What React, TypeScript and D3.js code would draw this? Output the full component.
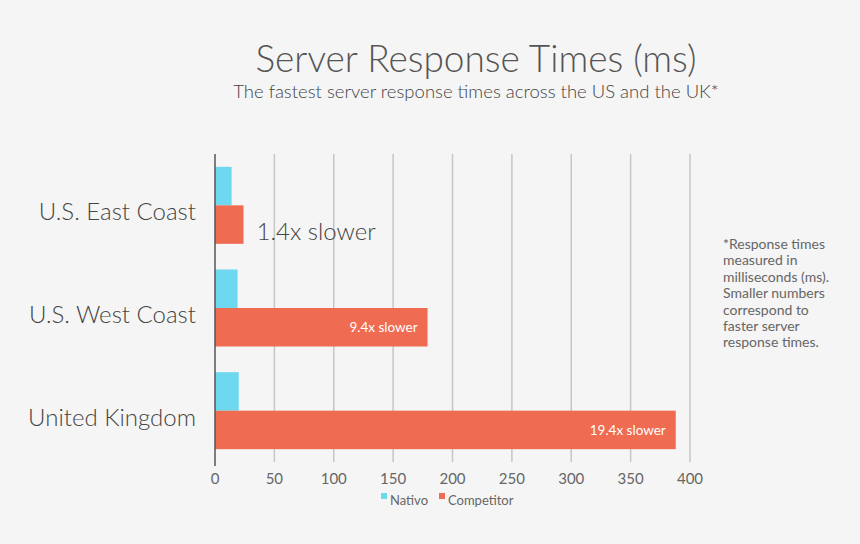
import React from "react";
import * as d3 from "d3";

const categories = ["U.S. East Coast", "U.S. West Coast", "United Kingdom"];
const nativo = [14, 19, 20];
const competitor = [24, 179, 388];
const barLabels = ["1.4x slower", "9.4x slower", "19.4x slower"];
const xTicks = [0, 50, 100, 150, 200, 250, 300, 350, 400];
const noteLines = [
  "*Response times",
  "measured in",
  "milliseconds (ms).",
  "Smaller numbers",
  "correspond to",
  "faster server",
  "response times.",
];

const W = 860, H = 544;
const CYAN = "#6dd8ef";
const RED = "#ef6b52";
const TEXT = "#555";
const FONT = "Lato, 'Open Sans', sans-serif";

export default function App() {
  const x = d3.scaleLinear().domain([0, 400]).range([215, 690]);
  const y = d3.scaleBand().domain(categories).range([154, 462]).paddingInner(0.25).paddingOuter(0.125);
  const sub = d3.scaleBand().domain(["n", "c"]).range([0, y.bandwidth()]);
  return (
    <svg width={W} height={H} style={{ position: "absolute", left: 0, top: 0, background: "#f5f5f5" }}>
      <rect x={0} y={0} width={W} height={H} fill="#f5f5f5" />
      <text x={476} y={72} textAnchor="middle" fontFamily={FONT} fontWeight={300} fontSize={37} fill={TEXT}>
        Server Response Times (ms)
      </text>
      <text x={476} y={98} textAnchor="middle" fontFamily={FONT} fontWeight={300} fontSize={18.5} fill="#444">
        The fastest server response times across the US and the UK*
      </text>
      {xTicks.map((t) => (
        <g key={t}>
          {t > 0 && <line x1={x(t)} x2={x(t)} y1={154} y2={462} stroke="#c6c6c6" strokeWidth={1.5} />}
          <text x={x(t)} y={484} textAnchor="middle" fontFamily={FONT} fontSize={15} fill="#666">
            {t}
          </text>
        </g>
      ))}
      {categories.map((c, i) => {
        const y0 = y(c)!;
        const yn = y0 + sub("n")!;
        const yc = y0 + sub("c")!;
        const bh = sub.bandwidth();
        const inside = i > 0;
        return (
          <g key={c}>
            <rect x={x(0)} y={yn} width={x(nativo[i]) - x(0)} height={bh} fill={CYAN} />
            <rect x={x(0)} y={yc} width={x(competitor[i]) - x(0)} height={bh} fill={RED} />
            <text x={196} y={y0 + y.bandwidth() / 2 + 15} textAnchor="end" fontFamily={FONT} fontWeight={300} fontSize={24} fill="#444">
              {c}
            </text>
            {inside ? (
              <text x={x(competitor[i]) - 10} y={yc + bh / 2 + 5} textAnchor="end" fontFamily={FONT} fontSize={13.5} fill="#fff">
                {barLabels[i]}
              </text>
            ) : (
              <text x={x(competitor[i]) + 13} y={yc + bh / 2 + 15} fontFamily={FONT} fontWeight={300} fontSize={24} fill="#444">
                {barLabels[i]}
              </text>
            )}
          </g>
        );
      })}
      <line x1={x(0)} x2={x(0)} y1={154} y2={466} stroke="#555" strokeWidth={1.5} />
      <rect x={381} y={493} width={6} height={6} fill={CYAN} />
      <text x={390} y={505} fontFamily={FONT} fontSize={13} fill="#666">Nativo</text>
      <rect x={439} y={493} width={6} height={6} fill={RED} />
      <text x={448} y={505} fontFamily={FONT} fontSize={13} fill="#666">Competitor</text>
      {noteLines.map((l, i) => (
        <text key={i} x={723} y={249 + i * 16.4} fontFamily={FONT} fontSize={14} fill="#666">
          {l}
        </text>
      ))}
    </svg>
  );
}
